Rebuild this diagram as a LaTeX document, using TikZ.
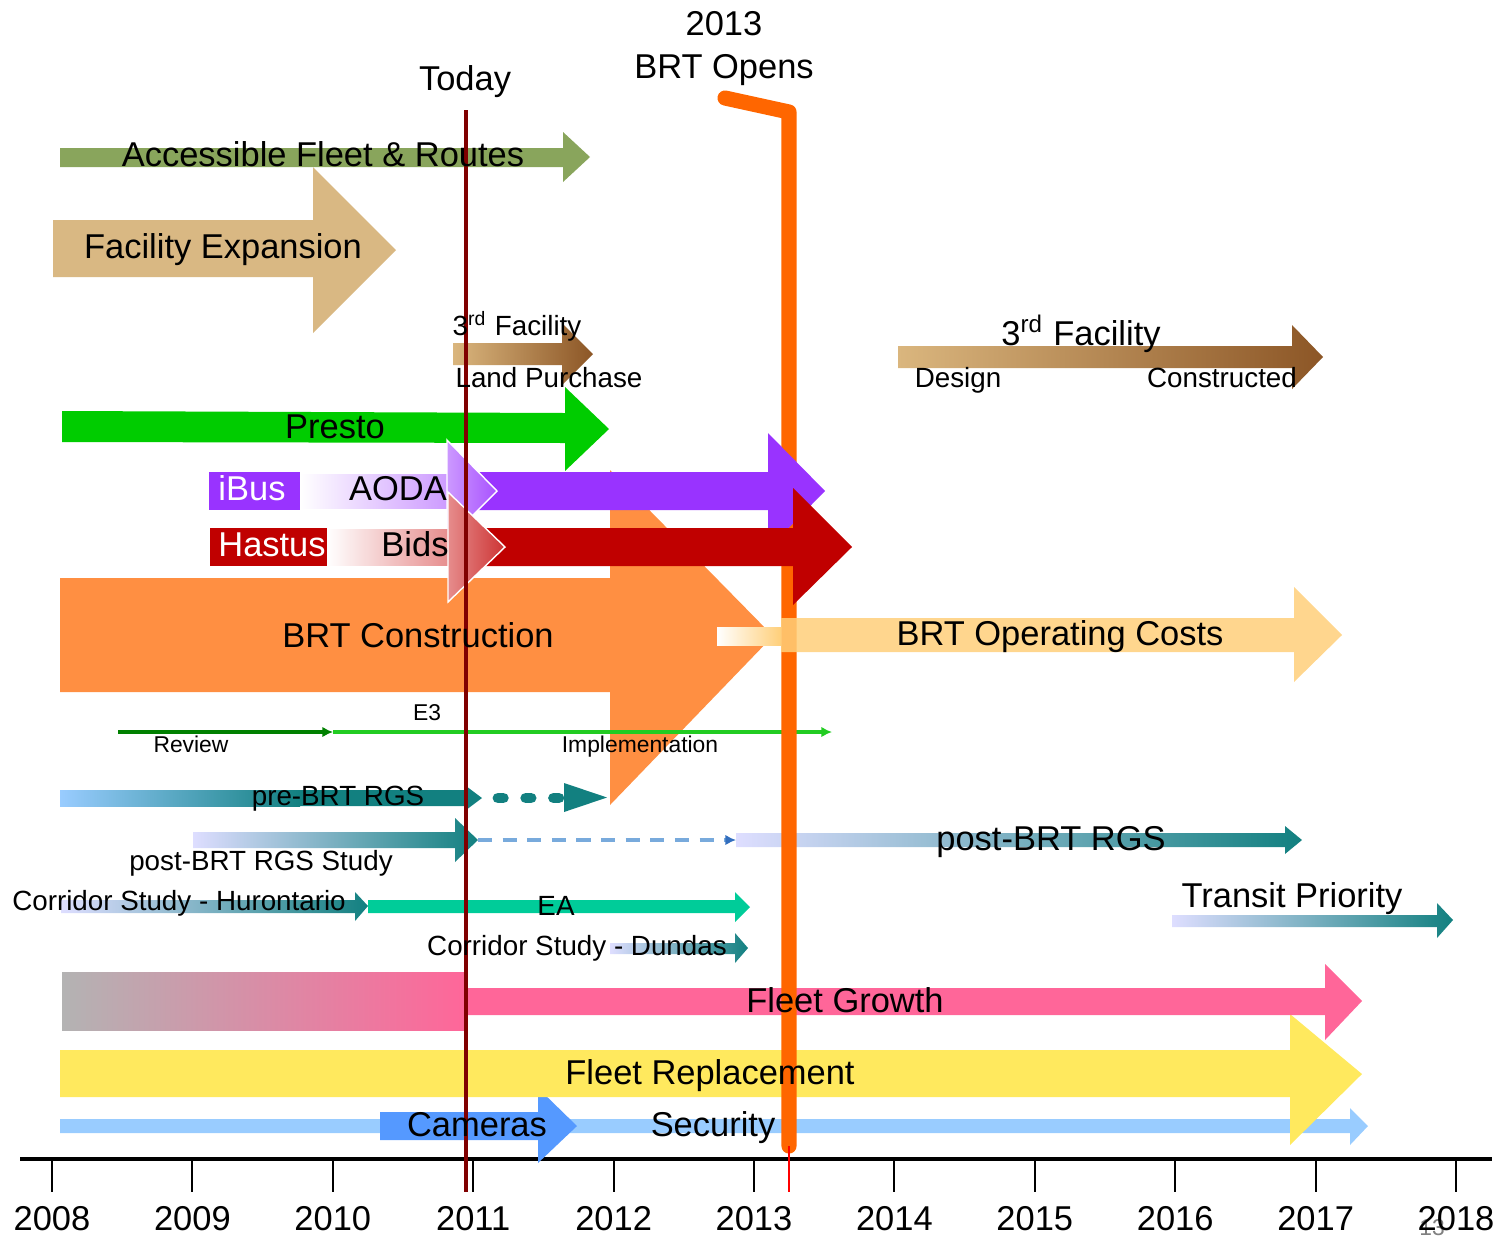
\documentclass[tikz,border=0pt]{standalone}
\usepackage{fontspec}
\setmainfont{Liberation Sans}
\usepackage{tikz}
\usetikzlibrary{arrows.meta}
\definecolor{afrgreen}{RGB}{137,165,92}
\definecolor{factan}{RGB}{217,184,131}
\definecolor{ltan}{RGB}{218,182,126}
\definecolor{dbrown}{RGB}{140,86,38}
\definecolor{presto}{RGB}{0,204,0}
\definecolor{ibus}{RGB}{153,51,255}
\definecolor{lpurple}{RGB}{204,153,255}
\definecolor{hastus}{RGB}{192,0,0}
\definecolor{lred}{RGB}{230,140,140}
\definecolor{brtc}{RGB}{255,143,66}
\definecolor{brtline}{RGB}{255,102,0}
\definecolor{opc}{RGB}{255,207,122}
\definecolor{dkgreen}{RGB}{0,128,0}
\definecolor{ltgreen}{RGB}{34,204,34}
\definecolor{rgsteal}{RGB}{18,128,128}
\definecolor{ltblue}{RGB}{153,204,255}
\definecolor{lavender}{RGB}{222,222,255}
\definecolor{dashblue}{RGB}{120,170,220}
\definecolor{tipblue}{RGB}{50,110,190}
\definecolor{eagreen}{RGB}{0,204,153}
\definecolor{fgray}{RGB}{179,179,179}
\definecolor{fpink}{RGB}{255,102,153}
\definecolor{fyellow}{RGB}{255,233,94}
\definecolor{cam}{RGB}{85,153,255}
\definecolor{todayred}{RGB}{128,0,0}
\tikzset{l/.style={font=\fontsize{9.8}{10}\selectfont,anchor=base,inner sep=0pt}}
\tikzset{m/.style={font=\fontsize{7.9}{8}\selectfont,anchor=base,inner sep=0pt}}
\tikzset{sm/.style={font=\fontsize{6.5}{7}\selectfont,anchor=base,inner sep=0pt}}
\tikzset{tip/.style={-{Latex[length=3pt,width=3pt]}}}
\begin{document}
\begin{tikzpicture}[x=0.01cm,y=-0.01cm]
  \useasboundingbox (0,0) rectangle (1512,1236);
  % time axis
  \coordinate (ax0) at (20,1159);
  \coordinate (ax1) at (1492,1159);
  \draw[line width=1.3pt] (ax0) -- (ax1);
  \node[sm,gray] (pg) at (1432,1235) {13};
  \foreach \yr [count=\i from 0] in {2008,...,2018} {
    \draw[line width=0.6pt] (52+140.4*\i,1159) -- (52+140.4*\i,1192);
    \node[l] (y\yr) at (52+140.4*\i,1230) {\yr};
  }
  % upper bars
  \fill[afrgreen] (60,148) -- (563,148) -- (563,132) -- (590,157) -- (563,182) -- (563,167) -- (60,167) -- cycle;
  \fill[factan] (53,220) -- (313,220) -- (313,167) -- (396,250) -- (313,333) -- (313,277) -- (53,277) -- cycle;
  \shade[left color=ltan,right color=dbrown] (453,343) -- (562,343) -- (562,323) -- (593,354) -- (562,385) -- (562,365) -- (453,365) -- cycle;
  \shade[left color=ltan,right color=dbrown] (898,346) -- (1292,346) -- (1292,325) -- (1323,357) -- (1292,389) -- (1292,368) -- (898,368) -- cycle;
  \fill[presto] (62,411) -- (565,413) -- (565,387) -- (609,429) -- (565,471) -- (565,443) -- (62,442) -- cycle;
  \fill[brtc] (60,578) -- (610,578) -- (610,470) -- (773,636) -- (610,805) -- (610,692) -- (60,692) -- cycle;
  % E3
  \coordinate (rv0) at (118,732);
  \coordinate (rv1) at (333,732);
  \coordinate (im1) at (832,732);
  \draw[ltgreen,line width=0.9pt,tip] (rv1) -- (im1);
  \draw[dkgreen,line width=1.3pt,tip] (rv0) -- (rv1);
  % RGS
  \shade[left color=ltblue,right color=rgsteal] (60,790) rectangle (300,806);
  \fill[rgsteal] (300,790) -- (466,790) -- (466,786) -- (482,798) -- (466,810) -- (466,806) -- (300,806) -- cycle;
  \coordinate (pd0) at (498,798);
  \coordinate (pd1) at (562,798);
  \draw[rgsteal,line width=3.1pt,line cap=round,dash pattern=on 1.5pt off 6.4pt] (pd0) -- (pd1);
  \fill[rgsteal] (564,783) -- (607,797.5) -- (564,812) -- cycle;
  \shade[left color=lavender,right color=rgsteal] (193,832) -- (455,832) -- (455,818) -- (478,840) -- (455,862) -- (455,848) -- (193,848) -- cycle;
  \coordinate (ps0) at (478,840);
  \coordinate (ps1) at (736,840);
  \draw[dashblue,line width=1pt,dash pattern=on 4pt off 3pt,-{Latex[length=3pt,width=3pt,color=tipblue]}] (ps0) -- (ps1);
  \shade[left color=lavender,right color=rgsteal] (736,833) -- (1285,833) -- (1285,826) -- (1302,840) -- (1285,854) -- (1285,847) -- (736,847) -- cycle;
  % corridors
  \shade[left color=lavender,right color=rgsteal] (61,900) -- (355,900) -- (355,892) -- (368,906) -- (355,921) -- (355,913) -- (61,913) -- cycle;
  \fill[eagreen] (368,900) -- (735,900) -- (735,892) -- (750,907) -- (735,922) -- (735,913) -- (368,913) -- cycle;
  \shade[left color=lavender,right color=rgsteal] (610,943) -- (735,943) -- (735,933) -- (748,948) -- (735,963) -- (735,954) -- (610,954) -- cycle;
  \shade[left color=lavender,right color=rgsteal] (1172,915) -- (1437,915) -- (1437,903) -- (1453,920) -- (1437,938) -- (1437,927) -- (1172,927) -- cycle;
  % fleet
  \fill[ltblue] (60,1119) -- (1350,1119) -- (1350,1108) -- (1368,1126) -- (1350,1145) -- (1350,1133) -- (60,1133) -- cycle;
  \fill[cam] (380,1112) -- (538,1112) -- (538,1088) -- (577,1126) -- (538,1163) -- (538,1140) -- (380,1140) -- cycle;
  \fill[fyellow] (60,1050) -- (1290,1050) -- (1290,1014) -- (1362,1074) -- (1290,1145) -- (1290,1097) -- (60,1097) -- cycle;
  \shade[left color=fgray,right color=fpink] (62,972) rectangle (466,1030);
  \fill[fpink] (466,988) -- (1325,988) -- (1325,964) -- (1362,1001) -- (1325,1040) -- (1325,1015) -- (466,1015) -- cycle;
  % BRT opens
  \coordinate (bo0) at (725,98);
  \coordinate (bo1) at (789,112);
  \coordinate (bo2) at (789,1146);
  \coordinate (bo3) at (789,1192);
  \draw[brtline,line width=4.3pt,line cap=round,line join=round] (bo0) -- (bo1) -- (bo2);
  \draw[red,line width=0.5pt] (bo2) -- (bo3);
  % iBus / Hastus
  \fill[ibus] (209,472) rectangle (300,510);
  \shade[left color=white,right color=lpurple] (300,474) rectangle (450,508);
  \fill[ibus] (470,472) -- (768,472) -- (768,433) -- (825,491) -- (768,549) -- (768,510) -- (470,510) -- cycle;
  \shade[left color=lpurple,right color=ibus!85,draw=white,line width=0.4pt] (447,440) -- (497,491) -- (447,541) -- cycle;
  \fill[hastus] (210,528) rectangle (327,566);
  \shade[left color=white,right color=lred] (327,529) rectangle (450,565);
  \fill[hastus] (470,528) -- (793,528) -- (793,488) -- (852,547) -- (793,605) -- (793,566) -- (470,566) -- cycle;
  \shade[left color=lred,right color=hastus!80,draw=white,line width=0.4pt] (448,492) -- (505,547) -- (448,602) -- cycle;
  % operating costs
  \shade[left color=white,right color=opc] (717,627) rectangle (781,645);
  \fill[opc,fill opacity=0.85] (781,618) -- (1294,618) -- (1294,587) -- (1342,635) -- (1294,682) -- (1294,652) -- (781,652) -- cycle;
  % today
  \coordinate (td0) at (466,110);
  \coordinate (td1) at (466,1192);
  \draw[todayred,line width=1.4pt] (td0) -- (td1);
  % labels
  \node[l] (today) at (465,90) {Today};
  \node[l] (opyr) at (724,35) {2013};
  \node[l] (opens) at (724,78) {BRT Opens};
  \node[l] (afr) at (323,166) {Accessible Fleet \& Routes};
  \node[l] (facexp) at (223,258) {Facility Expansion};
  \node[m] (fac3a) at (517,335) {3\textsuperscript{rd} Facility};
  \node[m] (land) at (549,387) {Land Purchase};
  \node[l] (fac3b) at (1081,345) {3\textsuperscript{rd} Facility};
  \node[m] (design) at (958,387) {Design};
  \node[m] (constr) at (1222,387) {Constructed};
  \node[l] (presto) at (335,438) {Presto};
  \node[l,white] (ibus) at (252,500) {iBus};
  \node[l] (aoda) at (398,500) {AODA};
  \node[l,white] (hastus) at (272,556) {Hastus};
  \node[l] (bids) at (415,556) {Bids};
  \node[l] (brtcon) at (418,647) {BRT Construction};
  \node[l] (brtop) at (1060,645) {BRT Operating Costs};
  \node[sm] (e3) at (427,720) {E3};
  \node[sm] (review) at (191,752) {Review};
  \node[sm] (impl) at (640,752) {Implementation};
  \node[m] (prergs) at (338,805) {pre-BRT RGS};
  \node[m] (poststudy) at (261,870) {post-BRT RGS Study};
  \node[l] (postrgs) at (1051,850) {post-BRT RGS};
  \node[m] (huron) at (179,910) {Corridor Study - Hurontario};
  \node[m] (ea) at (556,915) {EA};
  \node[m] (dundas) at (577,955) {Corridor Study - Dundas};
  \node[l] (transit) at (1292,907) {Transit Priority};
  \node[l] (fgrowth) at (845,1012) {Fleet Growth};
  \node[l] (frepl) at (710,1084) {Fleet Replacement};
  \node[l] (cams) at (477,1136) {Cameras};
  \node[l] (secur) at (713,1136) {Security};
\end{tikzpicture}
\end{document}
